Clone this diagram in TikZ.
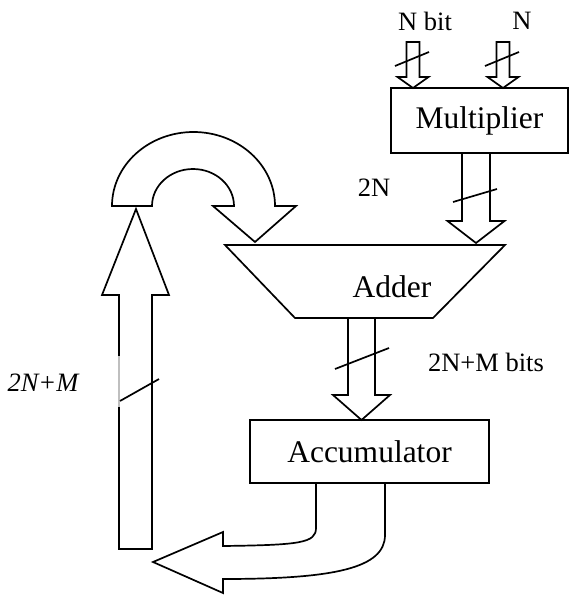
\documentclass[tikz,border=0pt]{standalone}
\usepackage{fontspec}
\setmainfont{Liberation Serif}
\newcommand{\bigtxt}{\fontsize{31.5}{37}\selectfont}
\newcommand{\smalltxt}{\fontsize{26.5}{31}\selectfont}
% straight block arrow pointing down: centre x, top, head base, tip, half shaft, half head
\newcommand{\blockdown}[6]{%
  \draw[outline] ({#1-#5},#2) -- ({#1-#5},#3) -- ({#1-#6},#3) -- (#1,#4)
    -- ({#1+#6},#3) -- ({#1+#5},#3) -- ({#1+#5},#2) -- cycle;}
\begin{document}
\begin{tikzpicture}[x=1pt,y=-1pt,
  outline/.style={draw=black,line width=1.7pt,line join=miter},
  slash/.style={draw=black,line width=1.7pt},
  unitbox/.style={draw=black,line width=1.7pt,inner sep=0pt,font=\bigtxt},
  lbl/.style={inner sep=0pt,font=\smalltxt}]
\useasboundingbox[fill=white] (0,0) rectangle (569,595);

% functional units
\node[unitbox,minimum width=177pt,minimum height=65pt] (mul) at (479.5,120.5) {Multiplier};
\node[unitbox,minimum width=239pt,minimum height=63pt] (acc) at (369.5,451.5) {Accumulator};
\coordinate (addTL) at (225,245);
\coordinate (addTR) at (505,245);
\coordinate (addBR) at (433,318);
\coordinate (addBL) at (295,318);
\draw[outline] (addTL) -- (addTR) -- (addBR) -- (addBL) -- cycle;
\node[inner sep=0pt,font=\bigtxt] (add) at (392,287) {Adder};

% inputs of the multiplier
\blockdown{413}{42}{77}{88}{6.5}{15.5}
\blockdown{503}{42}{77}{88}{6.5}{15.5}
\draw[slash] (395,66) -- (429,52);
\draw[slash] (485,66) -- (519,52);
\node[lbl] (nbit) at (425,21) {N bit};
\node[lbl] (nin) at (522,21) {N};

% product into the adder
\blockdown{476}{153}{221}{243}{14}{28.5}
\draw[slash] (453,202) -- (497,189);
\node[lbl] (twon) at (374,188) {2N};

% sum into the accumulator
\blockdown{361.5}{318}{395}{420}{13.5}{28.5}
\draw[slash] (335,369) -- (389,348);
\node[lbl] (sumw) at (486,362) {2N+M bits};

% accumulator output bending to the left
\draw[outline] (316,483) -- (316,528) .. controls (316,543) and (300,545) .. (223,546)
  -- (223,532) -- (153,562) -- (223,593) -- (223,579)
  .. controls (335,579) and (385,568) .. (385,535) -- (385,483);

% feedback path going up
\draw[outline] (119,549) -- (119,295) -- (102,295) -- (136,209) -- (169,295)
  -- (152,295) -- (152,549) -- cycle;
\draw[draw=black!25,line width=1.7pt] (119,356) -- (119,407);
\draw[slash] (120,401) -- (159,379);
\node[lbl,font=\smalltxt\itshape] (fbw) at (43,383) {2N+M};

% feedback turning over into the adder
\draw[outline] (112,206) arc[start angle=180,end angle=360,x radius=81.5,y radius=74]
  -- (296,206) -- (255,242) -- (213,206) -- (234,206)
  arc[start angle=0,end angle=-180,x radius=41,y radius=37] -- cycle;
\end{tikzpicture}
\end{document}
